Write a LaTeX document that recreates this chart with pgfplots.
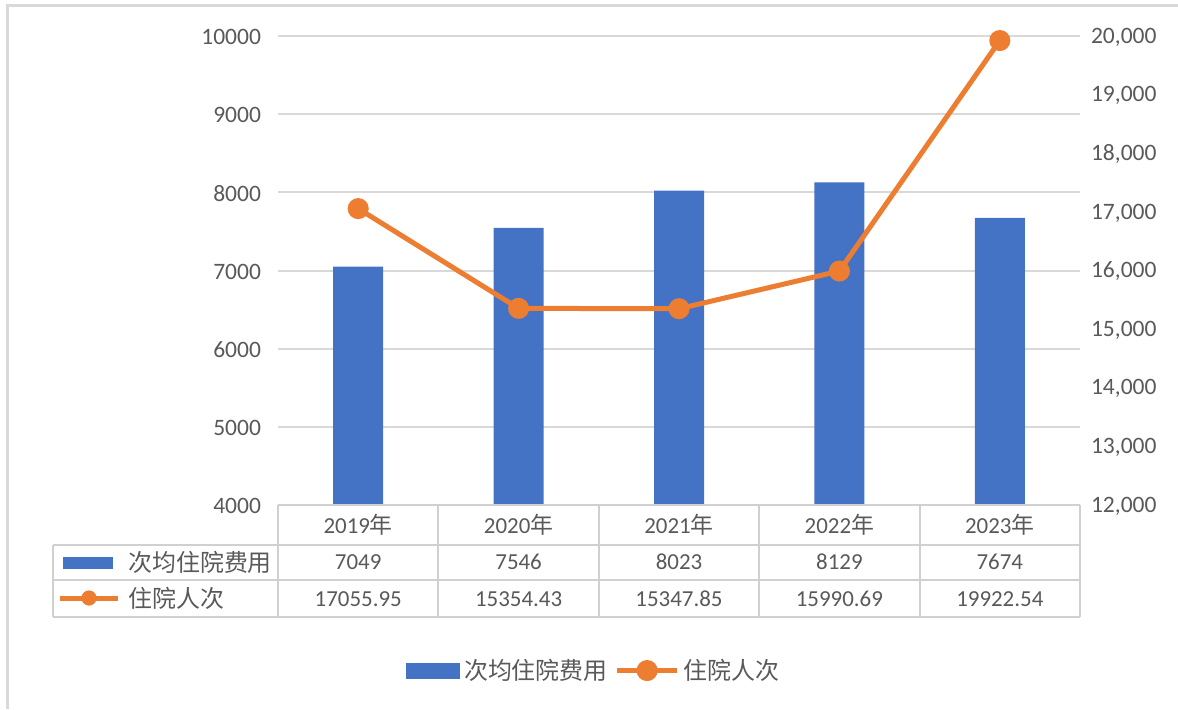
\documentclass[border=0pt]{standalone}
\usepackage{pgfplots}
\pgfplotsset{compat=1.18}
\usepackage{fontspec}
\setmainfont{Carlito}
\newfontfamily\cjk{Noto Sans CJK SC}
\definecolor{barblue}{HTML}{4472C4}
\definecolor{lineorange}{HTML}{ED7D31}
\definecolor{gridgray}{HTML}{D9D9D9}
\definecolor{tablegray}{HTML}{D0D0D0}
\definecolor{textgray}{HTML}{595959}
\begin{document}
\begin{tikzpicture}[x=1bp,y=1bp]
\useasboundingbox (0,0) rectangle (589,354.5);
\draw[gridgray, line width=1.5bp] (3.5,0) -- (3.5,351.5) -- (589,351.5);
\begin{axis}[
  at={(139bp,102bp)}, anchor=south west,
  scale only axis, width=401bp, height=234.5bp,
  xmin=-0.5, xmax=4.5, ymin=4000, ymax=10000,
  ytick={4000,5000,...,10000}, xtick=\empty,
  scaled y ticks=false,
  axis line style={draw=none},
  ymajorgrids, grid style={gridgray, line width=1bp},
  major tick length=0pt,
  yticklabel style={text=textgray, font=\fontsize{11.8}{13}\selectfont, xshift=-5bp, yshift=-0.5bp},
  /pgf/number format/assume math mode=true,
  /pgf/number format/set thousands separator={},
  ybar, bar width=25bp, clip=false]
\addplot[fill=barblue, draw=none] coordinates {(0,7049) (1,7546) (2,8023) (3,8129) (4,7674)};
\end{axis}
\begin{axis}[
  at={(139bp,102bp)}, anchor=south west,
  scale only axis, width=401bp, height=234.5bp,
  xmin=-0.5, xmax=4.5, ymin=12000, ymax=20000,
  ytick={12000,13000,...,20000}, xtick=\empty,
  scaled y ticks=false,
  axis y line*=right, axis x line=none,
  axis line style={draw=none},
  major tick length=0pt,
  yticklabel style={text=textgray, font=\fontsize{11.8}{13}\selectfont, xshift=2bp, yshift=-0.5bp},
  /pgf/number format/assume math mode=true,
  /pgf/number format/1000 sep={,},
  clip=false,
  legend columns=-1,
  legend style={at={(0.395,-0.353)}, anchor=center, draw=none, fill=none,
    font=\fontsize{12}{13}\selectfont\cjk, text=textgray,
    /tikz/every even column/.append style={column sep=1.5bp}},
  ]
\addlegendimage{legend image code/.code={\fill[barblue] (0bp,-3.75bp) rectangle (26.5bp,3.75bp);}}
\addlegendentry{次均住院费用}
\addplot[color=lineorange, line width=2.5bp, mark=*, mark size=4bp, mark options={fill=lineorange, draw=lineorange},
  legend image code/.code={\draw[lineorange,line width=2.5bp] (0bp,0bp)--(30bp,0bp); \fill[lineorange] (15bp,0bp) circle (4bp);}]
  coordinates {(0,17055.95) (1,15354.43) (2,15347.85) (3,15990.69) (4,19922.54)};
\addlegendentry{住院人次}
\end{axis}
% data table
\begin{scope}[tablegray, line width=1bp]
\draw (139,102) -- (540,102);
\draw (26.5,82) -- (540,82);
\draw (26.5,64.5) -- (540,64.5);
\draw (26.5,46) -- (540,46);
\draw (26.5,82) -- (26.5,46);
\foreach \x in {139,219.2,299.4,379.6,459.8,540} \draw (\x,102) -- (\x,46);
\end{scope}
\begin{scope}[text=textgray, font=\fontsize{11.5}{13}\selectfont]
\foreach \x/\t in {179.1/2019,259.3/2020,339.5/2021,419.7/2022,499.9/2023}
  \node at (\x,92) {\t{\cjk\fontsize{11.5}{13}\selectfont 年}};
\foreach \x/\t in {179.1/7049,259.3/7546,339.5/8023,419.7/8129,499.9/7674}
  \node at (\x,73.5) {\t};
\foreach \x/\t in {179.1/17055.95,259.3/15354.43,339.5/15347.85,419.7/15990.69,499.9/19922.54}
  \node at (\x,55) {\t};
\fill[barblue] (31.4,69.9) rectangle (56.5,76.1);
\node[anchor=west, inner sep=0pt, font=\cjk\fontsize{12}{13}\selectfont] at (64,73.5) {次均住院费用};
\draw[lineorange, line width=2.5bp] (30,55.5) -- (59,55.5);
\fill[lineorange] (44.5,55.5) circle (3.8bp);
\node[anchor=west, inner sep=0pt, font=\cjk\fontsize{12}{13}\selectfont] at (64,55.5) {住院人次};
\end{scope}
\end{tikzpicture}
\end{document}
